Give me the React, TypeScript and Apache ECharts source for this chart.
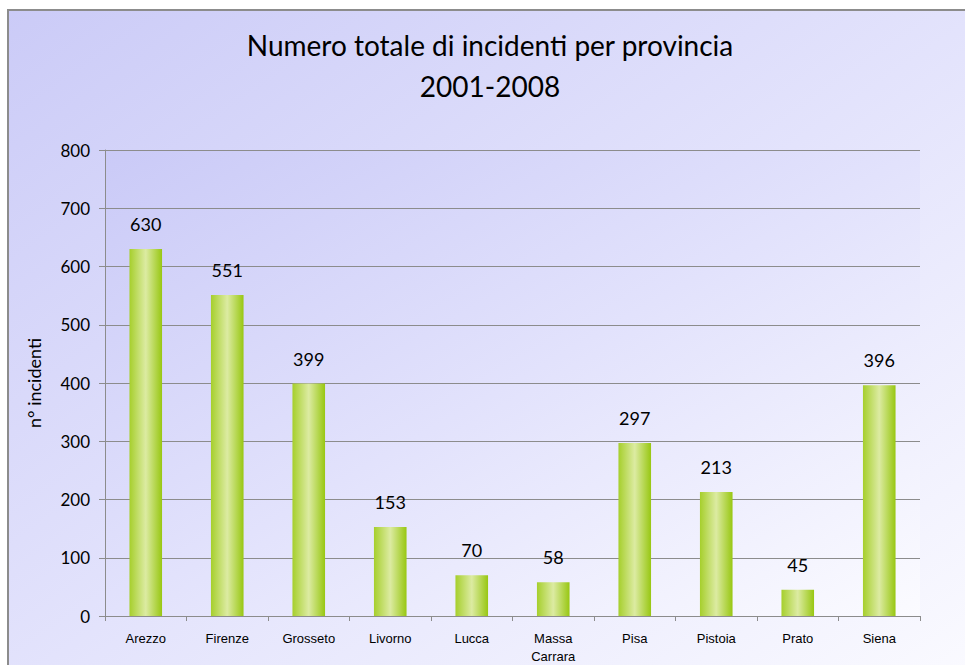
import React, { useEffect, useRef } from "react";
import * as echarts from "echarts";

const categories = ["Arezzo", "Firenze", "Grosseto", "Livorno", "Lucca", "Massa Carrara", "Pisa", "Pistoia", "Prato", "Siena"];
const incidenti = [630, 551, 399, 153, 70, 58, 297, 213, 45, 396];
const yTicks = { min: 0, max: 800, interval: 100 };
const titleText = "Numero totale di incidenti per provincia";
const subtitleText = "2001-2008";
const yAxisName = "n° incidenti";

export default function App() {
  const ref = useRef<HTMLDivElement>(null);
  useEffect(() => {
    if (!ref.current) return;
    const chart = echarts.init(ref.current, null, { renderer: "svg" });
    const font = "Lato";
    chart.setOption({
      animation: false,
      backgroundColor: "#ffffff",
      graphic: [
        {
          type: "rect",
          z: -10,
          shape: { x: 8, y: 10, width: 980, height: 680 },
          style: {
            fill: new echarts.graphic.LinearGradient(0, 0, 1, 1, [
              { offset: 0, color: "#cbcbf7" },
              { offset: 0.5, color: "#e3e3fc" },
              { offset: 1, color: "#fbfbff" },
            ]),
            stroke: "#8c8c8c",
            lineWidth: 2,
          },
        },
        {
          type: "text",
          x: 490,
          y: 45,
          style: {
            text: titleText,
            fontFamily: font,
            fontSize: 28,
            fill: "#000",
            textAlign: "center",
            textVerticalAlign: "middle",
          },
        },
        {
          type: "text",
          x: 490,
          y: 86,
          style: {
            text: subtitleText,
            fontFamily: font,
            fontSize: 28,
            fill: "#000",
            textAlign: "center",
            textVerticalAlign: "middle",
          },
        },
      ],
      grid: {
        left: 105,
        right: 45,
        top: 150,
        bottom: 46,
        show: true,
        borderWidth: 0,
        backgroundColor: new echarts.graphic.LinearGradient(0, 0, 1, 1, [
          { offset: 0, color: "#cacaf7" },
          { offset: 0.5, color: "#e2e2fc" },
          { offset: 1, color: "#fbfbff" },
        ]),
      },
      xAxis: {
        type: "category",
        data: categories,
        axisLine: { lineStyle: { color: "#8c8c8c", width: 1 } },
        axisTick: { show: true, length: 5, lineStyle: { color: "#8c8c8c" } },
        axisLabel: {
          color: "#000",
          fontFamily: "Liberation Sans",
          fontSize: 13,
          margin: 13,
          interval: 0,
          lineHeight: 18,
          formatter: (v: string) => v.replace(" ", "\n"),
        },
      },
      yAxis: {
        type: "value",
        min: yTicks.min,
        max: yTicks.max,
        interval: yTicks.interval,
        name: yAxisName,
        nameLocation: "middle",
        nameGap: 62,
        nameTextStyle: { color: "#000", fontFamily: font, fontSize: 18 },
        axisLine: { show: true, lineStyle: { color: "#8c8c8c", width: 1 } },
        axisTick: { show: true, length: 6, lineStyle: { color: "#8c8c8c" } },
        axisLabel: { color: "#000", fontFamily: font, fontSize: 17, margin: 15 },
        splitLine: { lineStyle: { color: "#8c8c8c", width: 1 } },
      },
      series: [
        {
          type: "bar",
          data: incidenti,
          barWidth: "40%",
          itemStyle: {
            color: new echarts.graphic.LinearGradient(0, 0, 1, 0, [
              { offset: 0, color: "#a6cf2c" },
              { offset: 0.5, color: "#dcebA2" },
              { offset: 1, color: "#98c712" },
            ]),
          },
          label: {
            show: true,
            position: "top",
            distance: 16,
            color: "#000",
            fontFamily: font,
            fontSize: 18,
          },
        },
      ],
    });
    return () => chart.dispose();
  }, []);
  return (
    <div
      ref={ref}
      style={{ position: "absolute", left: 0, top: 0, width: 965, height: 665 }}
    />
  );
}
